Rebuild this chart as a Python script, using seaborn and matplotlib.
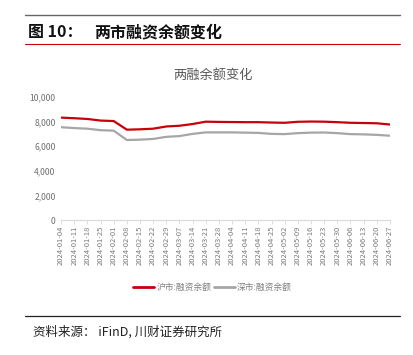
import pandas as pd
import matplotlib.pyplot as plt
import matplotlib.dates as mdates
import seaborn as sns
from matplotlib.lines import Line2D

# weekly readings (亿元)
dates = ['2024-01-04', '2024-01-11', '2024-01-18', '2024-01-25', '2024-02-01',
         '2024-02-08', '2024-02-15', '2024-02-22', '2024-02-29', '2024-03-07',
         '2024-03-14', '2024-03-21', '2024-03-28', '2024-04-04', '2024-04-11',
         '2024-04-18', '2024-04-25', '2024-05-02', '2024-05-09', '2024-05-16',
         '2024-05-23', '2024-05-30', '2024-06-06', '2024-06-13', '2024-06-20',
         '2024-06-27']
sh_margin = [8320, 8270, 8210, 8080, 8040, 7340, 7370, 7420, 7600, 7660,
             7800, 7990, 7970, 7960, 7950, 7950, 7920, 7900, 7980, 8000,
             7990, 7950, 7900, 7880, 7860, 7760]
sz_margin = [7540, 7470, 7420, 7300, 7260, 6500, 6530, 6590, 6760, 6820,
             7000, 7120, 7120, 7120, 7100, 7080, 7000, 6980, 7060, 7100,
             7110, 7060, 6980, 6960, 6920, 6850]
series_names = ['沪市:融资余额', '深市:融资余额']
colors = ['#C8000A', '#A6A6A6']

df = pd.DataFrame({
    'date': pd.to_datetime(dates * 2),
    'value': sh_margin + sz_margin,
    'series': [series_names[0]] * len(dates) + [series_names[1]] * len(dates),
})

sns.set_theme(style='white')
plt.rcParams['font.family'] = ['Noto Sans CJK SC', 'DejaVu Sans']

fig = plt.figure(figsize=(4.13, 3.55), dpi=100)
ax = fig.add_axes([0.148, 0.380, 0.796, 0.347])

sns.lineplot(data=df, x='date', y='value', hue='series', palette=colors,
             linewidth=1.6, ax=ax, legend=False)

ax.set_xlim(pd.Timestamp(dates[0]), pd.Timestamp(dates[-1]))
ax.set_ylim(0, 10000)
ax.set_yticks(range(0, 10001, 2000))
ax.set_yticklabels([f'{v:,}' for v in range(0, 10001, 2000)])
ax.set_xticks(pd.to_datetime(dates))
ax.xaxis.set_major_formatter(mdates.DateFormatter('%Y-%m-%d'))
ax.tick_params(axis='x', labelsize=5.5, colors='#7a7a7a', rotation=90,
               length=3, width=0.6, direction='out', pad=1, bottom=True)
ax.tick_params(axis='x', color='#D9D9D9')
ax.tick_params(axis='y', labelsize=6.2, colors='#6f6f6f', length=0, pad=4)
ax.set_xlabel('')
ax.set_ylabel('')
for side in ['top', 'right', 'left']:
    ax.spines[side].set_visible(False)
ax.spines['bottom'].set_color('#D9D9D9')
ax.spines['bottom'].set_linewidth(0.8)

# chart title
fig.text(0.516, 0.789, '两融余额变化', ha='center', va='center',
         fontsize=9.5, color='#595959')

# legend
handles = [Line2D([0], [0], color=c, lw=2) for c in colors]
fig.legend(handles, series_names, loc='center', bbox_to_anchor=(0.515, 0.191),
           ncol=2, frameon=False, fontsize=6.3, labelcolor='#808080',
           handlelength=2.4, handletextpad=0.3, columnspacing=0.2)

# report header and footer
fig.add_artist(Line2D([0.061, 0.969], [1 - 15 / 355] * 2, color='#666666', lw=1))
fig.add_artist(Line2D([0.061, 0.969], [1 - 44 / 355] * 2, color='#D00000', lw=0.8))
fig.text(0.068, 1 - 32 / 355, '图 10：', ha='left', va='center',
         fontsize=11.5, fontweight='bold', color='#111111')
fig.text(0.228, 1 - 32 / 355, '两市融资余额变化', ha='left', va='center',
         fontsize=11.5, fontweight='bold', color='#111111')
fig.add_artist(Line2D([0.061, 0.969], [1 - 316 / 355] * 2, color='#222222', lw=0.9))
fig.text(0.080, 1 - 332 / 355, '资料来源： iFinD, 川财证券研究所', ha='left',
         va='center', fontsize=9, color='#222222')

fig.savefig('out.png', dpi=100)
plt.close(fig)
